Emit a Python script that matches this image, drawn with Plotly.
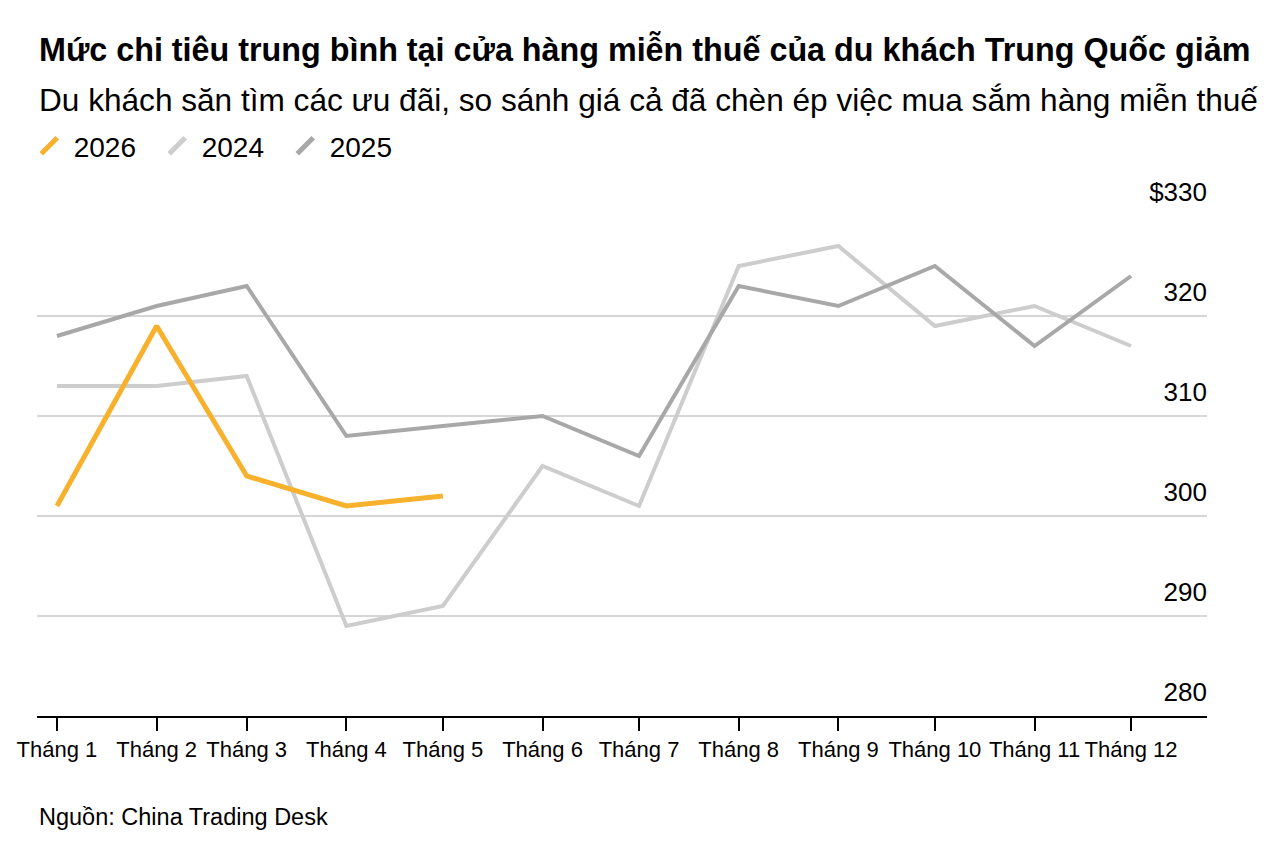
import plotly.graph_objects as go

# ---- data ----
months = ["2025-01-01", "2025-02-01", "2025-03-01", "2025-04-01", "2025-05-01", "2025-06-01",
          "2025-07-01", "2025-08-01", "2025-09-01", "2025-10-01", "2025-11-01", "2025-12-01"]
month_labels = ["Tháng 1", "Tháng 2", "Tháng 3", "Tháng 4", "Tháng 5", "Tháng 6",
                "Tháng 7", "Tháng 8", "Tháng 9", "Tháng 10", "Tháng 11", "Tháng 12"]
spend_2024 = [313, 313, 314, 289, 291, 305, 301, 325, 327, 319, 321, 317]
spend_2025 = [318, 321, 323, 308, 309, 310, 306, 323, 321, 325, 317, 324]
spend_2026 = [301, 319, 304, 301, 302]
y_ticks = [280, 290, 300, 310, 320, 330]
y_tick_labels = ["280", "290", "300", "310", "320", "$330"]

title = "Mức chi tiêu trung bình tại cửa hàng miễn thuế của du khách Trung Quốc giảm"
subtitle = "Du khách săn tìm các ưu đãi, so sánh giá cả đã chèn ép việc mua sắm hàng miễn thuế"
source = "Nguồn: China Trading Desk"

C2026 = "#F7B12D"
C2024 = "#CDCDCD"
C2025 = "#A8A8A8"
FONT = "Liberation Sans"

fig = go.Figure()
fig.add_trace(go.Scatter(x=months, y=spend_2024, mode="lines", name="2024",
                         line=dict(color=C2024, width=4), showlegend=False))
fig.add_trace(go.Scatter(x=months, y=spend_2025, mode="lines", name="2025",
                         line=dict(color=C2025, width=4), showlegend=False))
fig.add_trace(go.Scatter(x=months[:len(spend_2026)], y=spend_2026, mode="lines", name="2026",
                         line=dict(color=C2026, width=5), showlegend=False))

# legend-only entries with slanted stroke symbols
for name, col in [("2026", C2026), ("2024", C2024), ("2025", C2025)]:
    fig.add_trace(go.Scatter(x=[None], y=[None], mode="markers", name=name,
                             marker=dict(symbol="line-ne", size=22, color=col,
                                         line=dict(color=col, width=5))))

fig.update_layout(
    width=1264, height=847,
    margin=dict(l=37, r=57, t=216, b=131),
    paper_bgcolor="white", plot_bgcolor="white",
    font=dict(family=FONT, color="#000000", size=22),
    showlegend=True,
    legend=dict(orientation="h", x=-0.0105, xanchor="left", y=1.14, yanchor="middle",
                font=dict(size=28, family=FONT, color="#000000"), traceorder="normal",
                itemwidth=39, entrywidth=74, entrywidthmode="pixels"),
    xaxis=dict(type="date", range=["2024-12-25 19:00", "2025-12-24 15:00"],
               tickvals=months, ticktext=month_labels,
               showgrid=False, showline=True, linecolor="#000000", linewidth=2,
               ticks="outside", ticklen=13, tickwidth=1.5, tickcolor="#000000",
               tickfont=dict(size=22, family=FONT, color="#000000"),
               zeroline=False, fixedrange=True),
    yaxis=dict(range=[280, 330], side="right", tickvals=y_ticks, ticktext=y_tick_labels,
               showgrid=True, gridcolor="#D6D6D6", gridwidth=1.5,
               ticks="", ticklabelposition="inside", ticklabelshift=-24,
               ticklabelstandoff=-3, ticklabeloverflow="allow",
               tickfont=dict(size=26, family=FONT, color="#000000"),
               zeroline=False, showline=False, fixedrange=True),
    annotations=[
        dict(text="<b>" + title + "</b>", xref="paper", yref="paper", x=0, y=1.332,
             xanchor="left", yanchor="middle", showarrow=False,
             font=dict(size=32.3, family=FONT, color="#000000")),
        dict(text=subtitle, xref="paper", yref="paper", x=0, y=1.232,
             xanchor="left", yanchor="middle", showarrow=False,
             font=dict(size=31.6, family=FONT, color="#000000")),
        dict(text=source, xref="paper", yref="paper", x=0, y=-0.202,
             xanchor="left", yanchor="middle", showarrow=False,
             font=dict(size=23.5, family=FONT, color="#000000")),
    ],
)

fig.write_html("out.html")
